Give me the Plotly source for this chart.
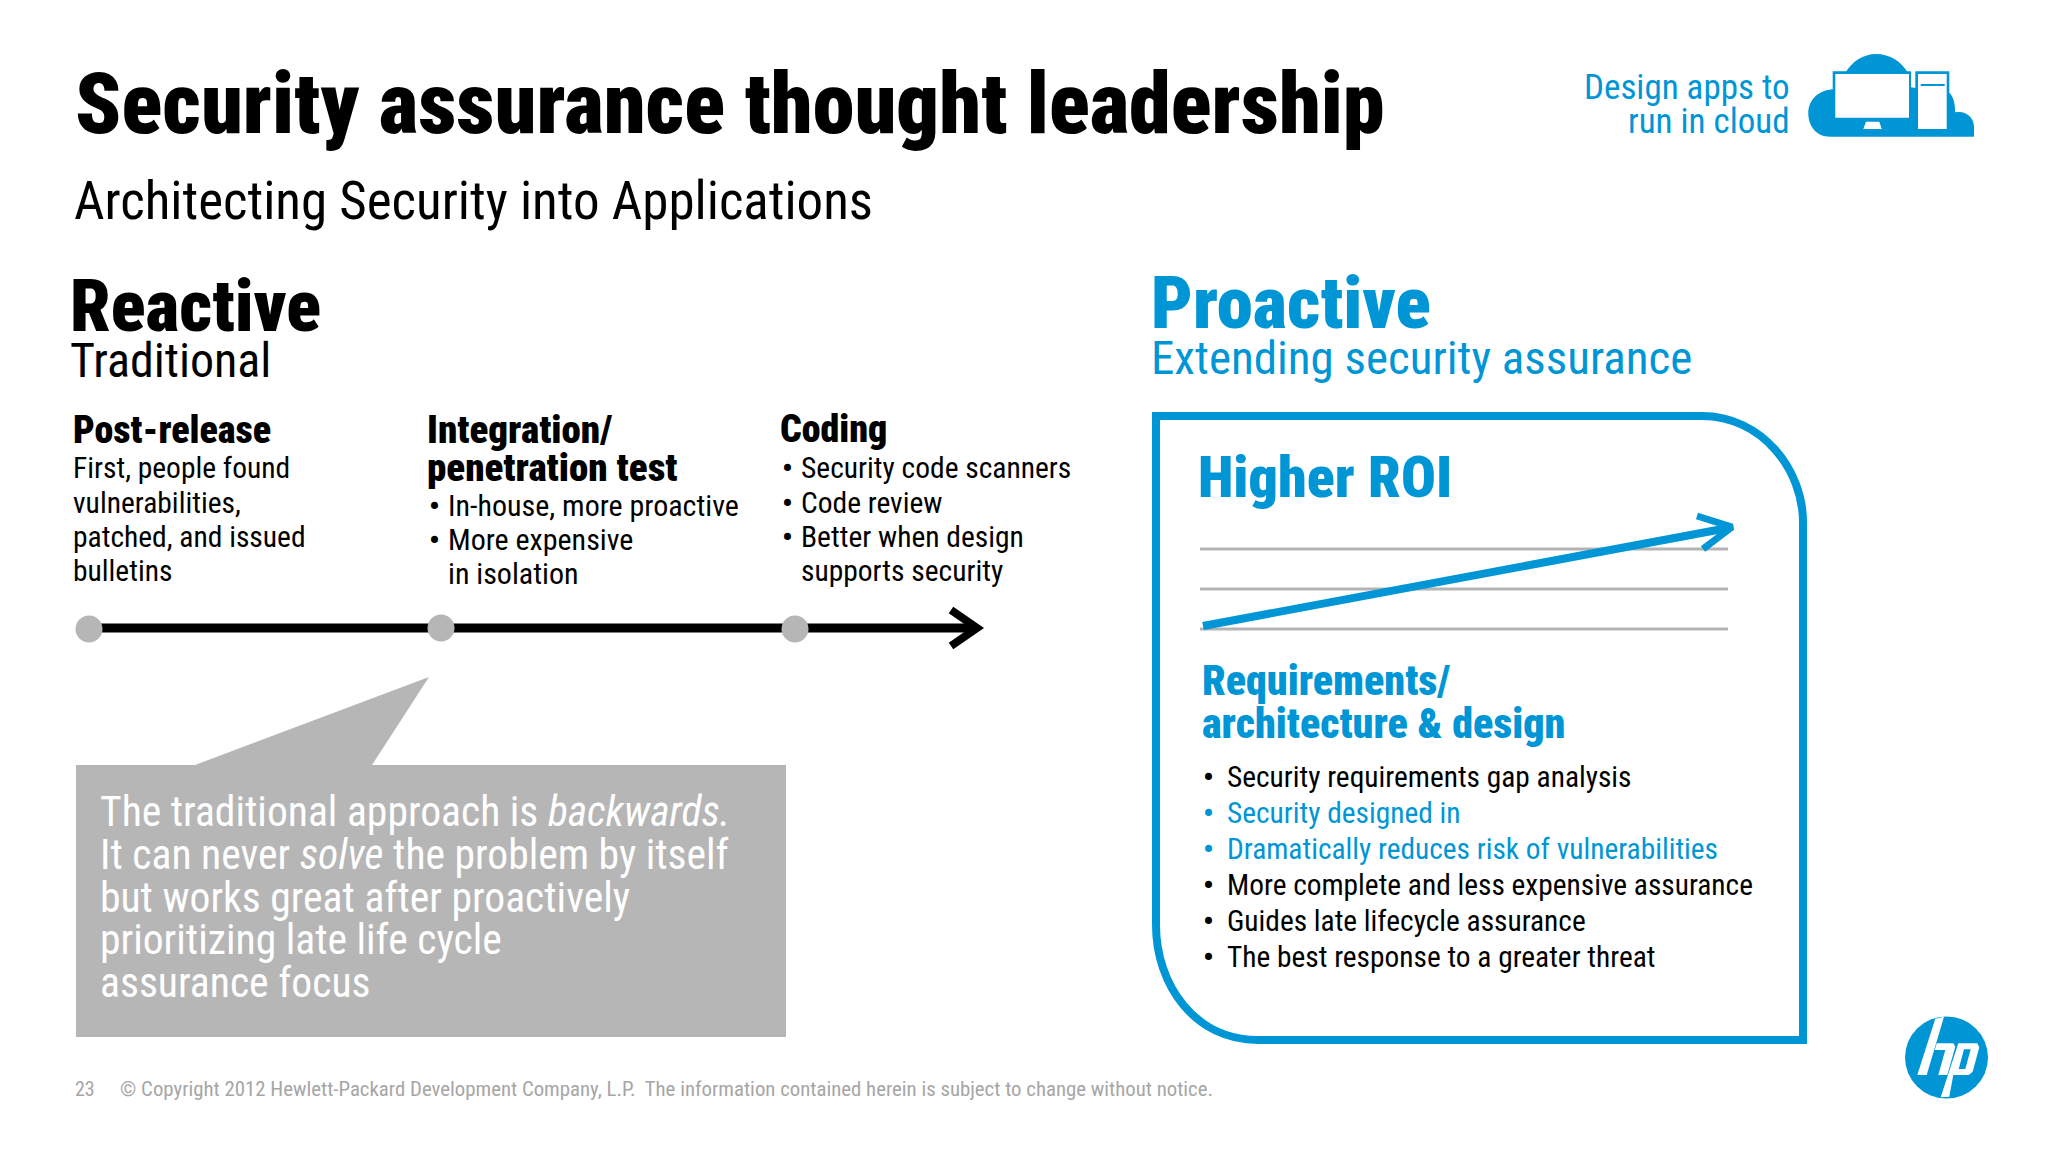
import plotly.graph_objects as go

FONT = "Roboto Condensed, Roboto, sans-serif"
BLUE = "#0096d6"
GREY = "#b6b6b6"

title = "Security assurance thought leadership"
subtitle = "Architecting Security into Applications"
tagline = ["Design apps to", "run in cloud"]
reactive = ["Reactive", "Traditional"]
proactive = ["Proactive", "Extending security assurance"]
stage_heads = [["Post-release"], ["Integration/", "penetration test"], ["Coding"]]
post_release = ["First, people found", "vulnerabilities,", "patched, and issued", "bulletins"]
integration = ["In-house, more proactive", "More expensive", "in isolation"]
coding = ["Security code scanners", "Code review", "Better when design", "supports security"]
callout = [
    "The traditional approach is <i>backwards.</i>",
    "It can never <i>solve</i> the problem by itself",
    "but works great after proactively",
    "prioritizing late life cycle",
    "assurance focus",
]
roi_head = "Higher ROI"
req_head = ["Requirements/", "architecture & design"]
req_items = [
    "Security requirements gap analysis",
    "Security designed in",
    "Dramatically reduces risk of vulnerabilities",
    "More complete and less expensive assurance",
    "Guides late lifecycle assurance",
    "The best response to a greater threat",
]
req_blue = [False, True, True, False, False, False]
footer_page = "23"
footer = ("© Copyright 2012 Hewlett-Packard Development Company, L.P.  "
          "The information contained herein is subject to change without notice.")


def txt(x, base, s, size, color="black", weight=400, anchor="left"):
    # y is the baseline in page pixels, shift takes off the descender part of the box
    fig.add_annotation(x=x, y=base + 1, text=s, showarrow=False,
                       xanchor=anchor, yanchor="bottom", xshift=-1 if anchor == "left" else 1,
                       yshift=-(0.244 * size + 1),
                       font=dict(family=FONT, size=size, color=color, weight=weight))


def poly(points, fill, close=True):
    path = "M " + " L ".join("%.1f,%.1f" % p for p in points) + (" Z" if close else "")
    fig.add_shape(type="path", path=path, fillcolor=fill, line_width=0, layer="above")


def icon(zx, zy):
    return 1780 + zx / 3, 30 + zy / 3


def logo(zx, zy):
    return 1890 + zx / 3, 1000 + zy / 3


def line(xs, ys, color, width):
    fig.add_trace(go.Scatter(x=xs, y=ys, mode="lines", hoverinfo="skip",
                             line=dict(color=color, width=width)))


fig = go.Figure()

# ---- timeline
line([89, 972], [628, 628], "black", 9)
line([951, 977, 951], [610, 628, 646], "black", 8)
fig.add_trace(go.Scatter(x=[89, 441, 795], y=[629, 628, 629], mode="markers", hoverinfo="skip",
                         marker=dict(size=27, color=GREY, line_width=0)))

# ---- roi lines and arrow
for gy in [549, 589, 629]:
    line([1200, 1728], [gy, gy], "#b3b3b3", 3)
line([1203, 1728], [626, 528], BLUE, 8)
line([1697, 1732, 1703], [516, 527, 549], BLUE, 7)

# ---- proactive box
fig.add_shape(type="path", line=dict(color=BLUE, width=8), fillcolor="rgba(0,0,0,0)", layer="below",
              path="M 1156,416 L 1702,416 C 1762,416 1803,470 1803,522 L 1803,1040 "
                   "L 1258,1040 C 1195,1040 1156,985 1156,925 Z")

# ---- callout
poly([(76, 765), (195, 765), (429, 677), (372, 765), (786, 765), (786, 1037), (76, 1037)], GREY)

# ---- cloud icon
fig.add_shape(type="path", fillcolor=BLUE, line_width=0, layer="above", path=(
    "M %.1f,%.1f C %.1f,%.1f %.1f,%.1f %.1f,%.1f C %.1f,%.1f %.1f,%.1f %.1f,%.1f "
    "L %.1f,%.1f C %.1f,%.1f %.1f,%.1f %.1f,%.1f C %.1f,%.1f %.1f,%.1f %.1f,%.1f "
    "L %.1f,%.1f L %.1f,%.1f C %.1f,%.1f %.1f,%.1f %.1f,%.1f "
    "C %.1f,%.1f %.1f,%.1f %.1f,%.1f L %.1f,%.1f Z" % (
        *icon(150, 320), *icon(110, 320), *icon(85, 290), *icon(85, 250),
        *icon(85, 210), *icon(115, 180), *icon(160, 178),
        *icon(195, 130), *icon(215, 95), *icon(250, 72), *icon(288, 72),
        *icon(330, 72), *icon(365, 95), *icon(385, 130),
        *icon(393, 172), *icon(510, 190), *icon(522, 205), *icon(526, 225), *icon(525, 247),
        *icon(560, 240), *icon(582, 265), *icon(582, 290), *icon(582, 320))))
poly([icon(158, 124), icon(393, 124), icon(393, 270), icon(158, 270)], BLUE)
poly([icon(166, 132), icon(387, 132), icon(387, 263), icon(166, 263)], "white")
poly([icon(258, 275), icon(298, 275), icon(305, 297), icon(250, 297)], "white")
poly([icon(406, 124), icon(508, 124), icon(508, 300), icon(406, 300)], BLUE)
poly([icon(414, 132), icon(500, 132), icon(500, 297), icon(414, 297)], "white")
poly([icon(422, 162), icon(494, 162), icon(494, 168), icon(422, 168)], BLUE)

# ---- hp logo
fig.add_shape(type="circle", x0=1905, y0=1016.5, x1=1988, y1=1098.5, fillcolor=BLUE, line_width=0, layer="above")
poly([logo(136, 56), logo(162, 50), logo(110, 225), logo(82, 225)], "white")
poly([logo(140, 130), logo(190, 130), logo(196, 140), logo(172, 225), logo(145, 225), logo(166, 150), logo(134, 150)], "white")
poly([logo(205, 130), logo(262, 130), logo(268, 142), logo(248, 215), logo(236, 225), logo(190, 225),
      logo(178, 290), logo(152, 292)], "white")
poly([logo(222, 148), logo(242, 148), logo(226, 207), logo(206, 207)], BLUE)

# ---- text
txt(74, 133, title, 84.4, weight=900)
txt(73, 219, subtitle, 53)
txt(1791, 99, tagline[0], 35, BLUE, anchor="right")
txt(1791, 133, tagline[1], 35, BLUE, anchor="right")

txt(69, 331, reactive[0], 72, weight=900)
txt(69, 377, reactive[1], 48)
txt(1150, 328, proactive[0], 73, BLUE, weight=900)
txt(1150, 374, proactive[1], 47, BLUE)

txt(72, 443, stage_heads[0][0], 38, weight=900)
for s, b in zip(post_release, [478, 513, 547, 581]):
    txt(72, b, s, 29.5)

txt(426, 443, stage_heads[1][0], 39, weight=900)
txt(426, 481, stage_heads[1][1], 39, weight=900)
for s, b, dot in zip(integration, [516, 550, 584], [True, True, False]):
    if dot:
        txt(428, b, "•", 30, weight=700)
    txt(447, b, s, 30)

txt(779, 442, stage_heads[2][0], 38, weight=900)
for s, b, dot in zip(coding, [478, 513, 547, 581], [True, True, True, False]):
    if dot:
        txt(781, b, "•", 30, weight=700)
    txt(800, b, s, 29.5)

for s, b in zip(callout, [826, 869, 912, 954, 997]):
    txt(99, b, s, 41.6, "white")

txt(1197, 497, roi_head, 58, BLUE, weight=900)
txt(1201, 695, req_head[0], 42, BLUE, weight=900)
txt(1201, 738, req_head[1], 42, BLUE, weight=900)
for s, b, is_blue in zip(req_items, [787, 823, 859, 895, 931, 967], req_blue):
    col = BLUE if is_blue else "black"
    txt(1202, b, "•", 30, col, weight=700)
    txt(1226, b, s, 29.4, col)

txt(74, 1096, footer_page, 20, "#a6a6a6")
txt(119, 1096, footer, 20.8, "#a6a6a6")

fig.update_layout(
    width=2048, height=1152, margin=dict(l=0, r=0, t=0, b=0),
    plot_bgcolor="white", paper_bgcolor="white", showlegend=False,
    xaxis=dict(range=[0, 2048], visible=False, fixedrange=True),
    yaxis=dict(range=[1152, 0], visible=False, fixedrange=True),
)
fig.write_html("out.html", post_script="document.body.style.margin='0';", config={"displayModeBar": False})
